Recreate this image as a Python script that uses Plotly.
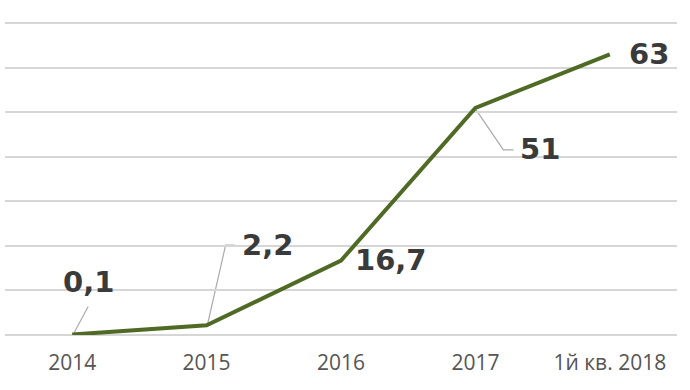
import plotly.graph_objects as go

categories = ["2014", "2015", "2016", "2017", "1й кв. 2018"]
values = [0.1, 2.2, 16.7, 51, 63]
labels = ["0,1", "2,2", "16,7", "51", "63"]

xs = list(range(len(categories)))

fig = go.Figure()
fig.add_trace(go.Scatter(
    x=xs, y=values, mode="lines",
    line=dict(color="#4f6a24", width=4),
    cliponaxis=False, hoverinfo="skip", showlegend=False,
))

# label offsets (pixels) relative to each point
shifts = [(16, 53), (61, 80), (50, 1), (65, -41), (39, 0)]
for x, v, lab, (dx, dy) in zip(xs, values, labels, shifts):
    fig.add_annotation(
        x=x, y=v, xref="x", yref="y", text=lab, showarrow=False,
        xshift=dx, yshift=dy,
        font=dict(family="DejaVu Sans", size=29, color="#3a3a3a", weight="bold"),
    )

# leader lines (pixel paths anchored at points)
leaders = {
    0: "M2,2 L16,28",
    1: "M1,1 L19,80 L28,80",
    3: "M0,-1 L28,-42 L38,-42",
}
for i, path in leaders.items():
    fig.add_shape(
        type="path", xref="x", yref="y",
        xsizemode="pixel", ysizemode="pixel",
        xanchor=xs[i], yanchor=values[i], path=path,
        line=dict(color="#aaaaaa", width=1.2), layer="below",
    )

fig.update_layout(
    width=690, height=390,
    margin=dict(l=5, r=13, t=21, b=55),
    paper_bgcolor="white", plot_bgcolor="white",
    xaxis=dict(
        range=[-0.5, 4.5], tickmode="array", tickvals=xs, ticktext=categories,
        showgrid=False, zeroline=False, showline=False, ticks="",
        ticklabelstandoff=13,
        tickfont=dict(family="Open Sans", size=21, color="#555555"),
    ),
    yaxis=dict(
        range=[0, 70.5], tickmode="array", tickvals=[0, 10, 20, 30, 40, 50, 60, 70],
        showgrid=True, gridcolor="#d6d6d6", gridwidth=1.5,
        zeroline=True, zerolinecolor="#d6d6d6", zerolinewidth=1.5,
        showticklabels=False, ticks="", showline=False,
    ),
)

fig.write_html("out.html")
